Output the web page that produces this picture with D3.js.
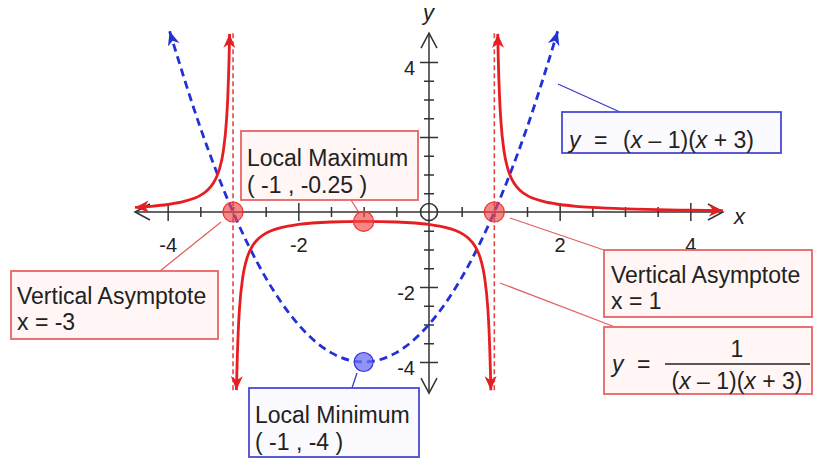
<!DOCTYPE html>
<html>
<head>
<meta charset="utf-8">
<script src="https://cdn.jsdelivr.net/npm/d3@7"></script>
<style>
body { margin: 0; background: #fff; }
svg { display: block; font-family: "Liberation Sans", Arial, sans-serif; }
</style>
</head>
<body>
<svg id="chart" width="815" height="459"></svg>
<script>
// tick values and labels
var xLabels = [-4, -2, 2, 4];
var yLabels = [-4, -2, 2, 4];
var minorTicks = [-4, -3.5, -3, -2.5, -2, -1.5, -1, -0.5, 0.5, 1, 1.5, 2, 2.5, 3, 3.5, 4];

// y = (x - 1)(x + 3)
var parabola = [[-3.97, 4.82], [-3.5, 2.25], [-3, 0], [-2.5, -1.75], [-2, -3], [-1.5, -3.75],
    [-1, -4], [-0.5, -3.75], [0, -3], [0.5, -1.75], [1, 0], [1.5, 2.25], [1.97, 4.82]];

// y = 1 / ((x - 1)(x + 3)), three red branches
var leftBranch = [[-4.5, 0.121], [-4.25, 0.152], [-4, 0.2], [-3.75, 0.281], [-3.5, 0.444], [-3.4, 0.568],
    [-3.3, 0.775], [-3.25, 0.941], [-3.2, 1.19], [-3.15, 1.606], [-3.1, 2.439], [-3.08, 3.064],
    [-3.06, 4.105], [-3.052, 4.75]];
var middleBranch = [[-2.947, -4.75], [-2.94, -4.23], [-2.92, -3.19], [-2.9, -2.564], [-2.85, -1.732],
    [-2.8, -1.316], [-2.7, -0.901], [-2.6, -0.694], [-2.5, -0.571], [-2.25, -0.41], [-2, -0.333],
    [-1.5, -0.267], [-1, -0.25], [-0.5, -0.267], [0, -0.333], [0.25, -0.41], [0.5, -0.571],
    [0.6, -0.694], [0.7, -0.901], [0.8, -1.316], [0.85, -1.732], [0.9, -2.564], [0.92, -3.19],
    [0.94, -4.23], [0.947, -4.75]];
var rightBranch = [[1.052, 4.75], [1.06, 4.105], [1.08, 3.064], [1.1, 2.439], [1.15, 1.606], [1.2, 1.19],
    [1.25, 0.941], [1.3, 0.775], [1.4, 0.568], [1.5, 0.444], [1.75, 0.281], [2, 0.2], [2.25, 0.152],
    [2.5, 0.121], [3, 0.0833], [3.5, 0.0615], [4, 0.0476], [4.5, 0.0381]];

var asymptotes = [-3, 1];
var redPoints = [[-3, 0], [1, 0], [-1, -0.25]];
var bluePoints = [[-1, -4]];

var maxLabel = ["Local Maximum", "( -1 , -0.25 )"];
var minLabel = ["Local Minimum", "( -1 , -4 )"];
var asymLeftLabel = ["Vertical Asymptote", "x = -3"];
var asymRightLabel = ["Vertical Asymptote", "x = 1"];

var RED = "#e61e22", BLUE = "#2230d8", AXIS = "#333";

var svg = d3.select("#chart");
var x = d3.scaleLinear().domain([-4.5, 4.5]).range([135, 723]);
var y = d3.scaleLinear().domain([-4.8, 4.8]).range([392, 32]);

var defs = svg.append("defs");
function arrowMarker(id, color) {
    defs.append("marker")
        .attr("id", id)
        .attr("viewBox", "-14 -6.5 15 13")
        .attr("refX", 0).attr("refY", 0)
        .attr("markerWidth", 15).attr("markerHeight", 13)
        .attr("markerUnits", "userSpaceOnUse")
        .attr("orient", "auto-start-reverse")
        .append("path")
        .attr("d", "M0,0 L-14,-6 L-10,0 L-14,6 Z")
        .attr("fill", color);
}
arrowMarker("arrRed", RED);
arrowMarker("arrBlue", BLUE);
defs.append("marker")
    .attr("id", "arrAxis")
    .attr("viewBox", "-16 -9 18 18")
    .attr("refX", 0).attr("refY", 0)
    .attr("markerWidth", 18).attr("markerHeight", 18)
    .attr("markerUnits", "userSpaceOnUse")
    .attr("orient", "auto-start-reverse")
    .append("path")
    .attr("d", "M-15,-8 L0,0 L-15,8")
    .attr("fill", "none").attr("stroke", AXIS).attr("stroke-width", 1.5);

// axes
var axes = svg.append("g");
axes.append("line")
    .attr("x1", x(-4.5)).attr("x2", x(4.5)).attr("y1", y(0)).attr("y2", y(0))
    .attr("stroke", AXIS).attr("stroke-width", 1.5)
    .attr("marker-start", "url(#arrAxis)").attr("marker-end", "url(#arrAxis)");
axes.append("line")
    .attr("x1", x(0)).attr("x2", x(0)).attr("y1", y(-4.83)).attr("y2", y(4.77))
    .attr("stroke", AXIS).attr("stroke-width", 1.5)
    .attr("marker-start", "url(#arrAxis)").attr("marker-end", "url(#arrAxis)");

function tickLen(d) { return (d % 2 === 0) ? 9 : 5; }

var xTicks = axes.append("g")
    .attr("transform", "translate(0," + y(0) + ")")
    .call(d3.axisBottom(x).tickValues(minorTicks).tickFormat(""));
xTicks.select(".domain").remove();
xTicks.selectAll(".tick line")
    .attr("y1", d => -tickLen(d)).attr("y2", d => tickLen(d))
    .attr("stroke", AXIS).attr("stroke-width", 1.5);

var yTicks = axes.append("g")
    .attr("transform", "translate(" + x(0) + ",0)")
    .call(d3.axisLeft(y).tickValues(minorTicks).tickFormat(""));
yTicks.select(".domain").remove();
yTicks.selectAll(".tick line")
    .attr("x1", d => -tickLen(d)).attr("x2", d => tickLen(d))
    .attr("stroke", AXIS).attr("stroke-width", 1.5);

// asymptotes
svg.append("g").selectAll("line")
    .data(asymptotes)
    .join("line")
    .attr("x1", d => x(d)).attr("x2", d => x(d))
    .attr("y1", y(4.77)).attr("y2", y(-4.83))
    .attr("stroke", "#e04848").attr("stroke-width", 1.6)
    .attr("stroke-dasharray", "5,3");

var line = d3.line()
    .x(d => x(d[0]))
    .y(d => y(d[1]))
    .curve(d3.curveMonotoneX);

svg.append("path")
    .attr("d", line(parabola))
    .attr("fill", "none")
    .attr("stroke", BLUE).attr("stroke-width", 2.8)
    .attr("stroke-dasharray", "8,5")
    .attr("marker-start", "url(#arrBlue)").attr("marker-end", "url(#arrBlue)");

svg.append("g").selectAll("path")
    .data([leftBranch, middleBranch, rightBranch])
    .join("path")
    .attr("d", d => line(d))
    .attr("fill", "none")
    .attr("stroke", RED).attr("stroke-width", 2.8)
    .attr("marker-start", "url(#arrRed)").attr("marker-end", "url(#arrRed)");

// origin ring
svg.append("circle")
    .attr("cx", x(0)).attr("cy", y(0)).attr("r", 8.5)
    .attr("fill", "none").attr("stroke", AXIS).attr("stroke-width", 1.6);

// axis labels
var tickFont = 20;
var xLab = svg.append("g")
    .attr("transform", "translate(0," + y(0) + ")")
    .call(d3.axisBottom(x).tickValues(xLabels).tickSize(0).tickPadding(26).tickFormat(d => String(d)));
xLab.select(".domain").remove();
xLab.selectAll("text").attr("font-size", tickFont).attr("fill", "#222")
    .attr("font-family", "Liberation Sans, Arial, sans-serif");

var yLab = svg.append("g")
    .attr("transform", "translate(" + x(0) + ",0)")
    .call(d3.axisLeft(y).tickValues(yLabels).tickSize(0).tickPadding(14).tickFormat(d => String(d)));
yLab.select(".domain").remove();
yLab.selectAll("text").attr("font-size", tickFont).attr("fill", "#222").attr("dy", "0.6em")
    .attr("font-family", "Liberation Sans, Arial, sans-serif");

svg.append("text").attr("x", 734).attr("y", 224).attr("font-size", 22)
    .attr("font-style", "italic").attr("fill", "#222").text("x");
svg.append("text").attr("x", 423).attr("y", 20).attr("font-size", 22)
    .attr("font-style", "italic").attr("fill", "#222").text("y");

// marked points
svg.append("g").selectAll("circle")
    .data(redPoints)
    .join("circle")
    .attr("cx", d => x(d[0])).attr("cy", d => y(d[1])).attr("r", 10)
    .attr("fill", "rgba(240,70,70,0.65)").attr("stroke", "#e33").attr("stroke-width", 1.2);
svg.append("g").selectAll("circle")
    .data(bluePoints)
    .join("circle")
    .attr("cx", d => x(d[0])).attr("cy", d => y(d[1])).attr("r", 9.5)
    .attr("fill", "rgba(110,110,250,0.75)").attr("stroke", "#3636d8").attr("stroke-width", 1.2);

// callouts
var redBox = { stroke: "#e86464", fill: "#fff6f5", lead: "#e06262" };
var blueBox = { stroke: "#4a4ad4", fill: "#fafaff", lead: "#3a3ad0" };

function leader(x1, y1, x2, y2, c) {
    svg.append("line").attr("x1", x1).attr("y1", y1).attr("x2", x2).attr("y2", y2)
        .attr("stroke", c.lead).attr("stroke-width", 1.3);
}
function box(bx, by, bw, bh, c) {
    svg.append("rect").attr("x", bx).attr("y", by).attr("width", bw).attr("height", bh)
        .attr("fill", c.fill).attr("stroke", c.stroke).attr("stroke-width", 1.8);
}
function lines(tx, baselines, texts) {
    var t = svg.append("text").attr("font-size", 23).attr("fill", "#222");
    texts.forEach(function (s, i) {
        t.append("tspan").attr("x", tx).attr("y", baselines[i]).text(s);
    });
}

leader(351, 200, 358, 211, redBox);
box(241, 131, 177, 69, redBox);
lines(247, [166, 193], maxLabel);

leader(160, 271, 221, 222, redBox);
box(11, 271, 207, 68, redBox);
lines(17, [304, 330], asymLeftLabel);

leader(604, 250, 510, 218, redBox);
box(604, 250, 208, 67, redBox);
lines(611, [283, 309], asymRightLabel);

leader(615, 327, 500, 283, redBox);
box(604, 327, 208, 67, redBox);
var f = svg.append("g").attr("font-size", 23).attr("fill", "#222");
f.append("text").attr("x", 612).attr("y", 372).attr("font-style", "italic").text("y");
f.append("text").attr("x", 637).attr("y", 372).text("=");
f.append("text").attr("x", 737).attr("y", 357).attr("text-anchor", "middle").text("1");
f.append("line").attr("x1", 665).attr("x2", 810).attr("y1", 364).attr("y2", 364)
    .attr("stroke", "#222").attr("stroke-width", 1.5);
var den = f.append("text").attr("x", 737).attr("y", 389).attr("text-anchor", "middle");
den.append("tspan").text("(");
den.append("tspan").attr("font-style", "italic").text("x");
den.append("tspan").text(" \u2013 1)(");
den.append("tspan").attr("font-style", "italic").text("x");
den.append("tspan").text(" + 3)");

leader(558, 84, 620, 112, blueBox);
box(562, 112, 219, 41, blueBox);
var g2 = svg.append("g").attr("font-size", 23).attr("fill", "#222");
g2.append("text").attr("x", 569).attr("y", 148).attr("font-style", "italic").text("y");
g2.append("text").attr("x", 594).attr("y", 148).text("=");
var num = g2.append("text").attr("x", 623).attr("y", 148);
num.append("tspan").text("(");
num.append("tspan").attr("font-style", "italic").text("x");
num.append("tspan").text(" \u2013 1)(");
num.append("tspan").attr("font-style", "italic").text("x");
num.append("tspan").text(" + 3)");

leader(352, 388, 357, 373, blueBox);
box(249, 388, 170, 69, blueBox);
lines(255, [423, 450], minLabel);
</script>
</body>
</html>
